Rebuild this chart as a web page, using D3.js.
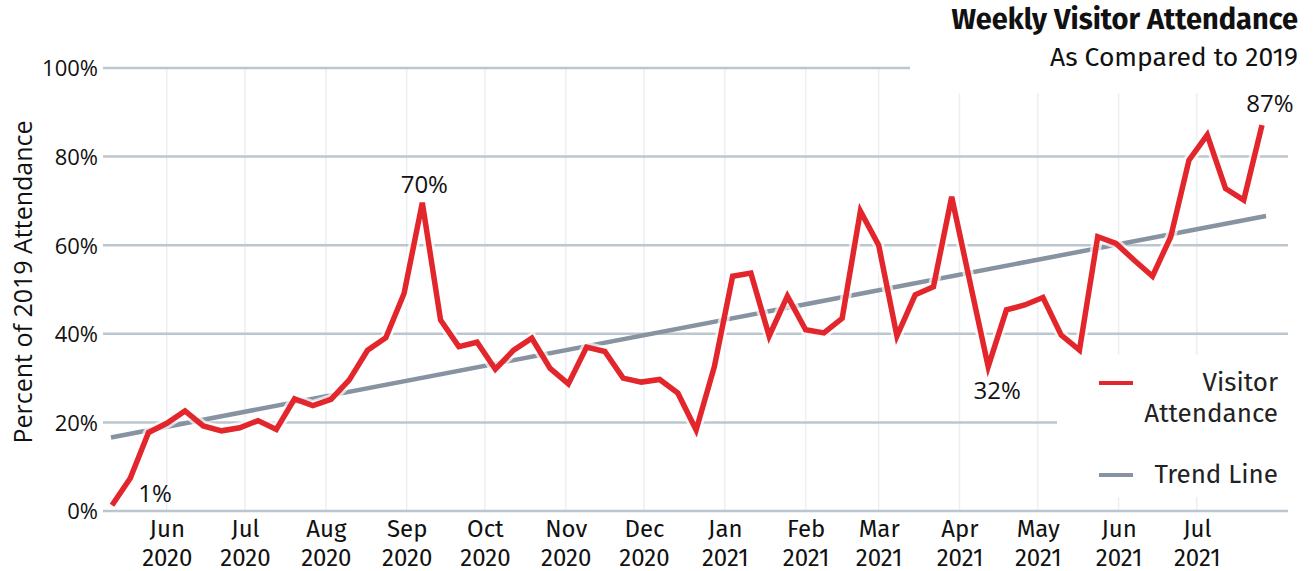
<!DOCTYPE html>
<html>
<head>
<meta charset="utf-8">
<script src="https://cdn.jsdelivr.net/npm/d3@7"></script>
<style>
  body { margin: 0; background: #fff; }
  svg { display: block; }
  .tick text { fill: #111; }
</style>
</head>
<body>
<div id="chart"></div>
<script>
// weekly dates (week starting)
var weeks = [
  "2020-05-11","2020-05-18","2020-05-25","2020-06-01","2020-06-08","2020-06-15","2020-06-22","2020-06-29",
  "2020-07-06","2020-07-13","2020-07-20","2020-07-27","2020-08-03","2020-08-10","2020-08-17","2020-08-24",
  "2020-08-31","2020-09-07","2020-09-14","2020-09-21","2020-09-28","2020-10-05","2020-10-12","2020-10-19",
  "2020-10-26","2020-11-02","2020-11-09","2020-11-16","2020-11-23","2020-11-30","2020-12-07","2020-12-14",
  "2020-12-21","2020-12-28","2021-01-04","2021-01-11","2021-01-18","2021-01-25","2021-02-01","2021-02-08",
  "2021-02-15","2021-02-22","2021-03-01","2021-03-08","2021-03-15","2021-03-22","2021-03-29","2021-04-05",
  "2021-04-12","2021-04-19","2021-04-26","2021-05-03","2021-05-10","2021-05-17","2021-05-24","2021-05-31",
  "2021-06-07","2021-06-14","2021-06-21","2021-06-28","2021-07-05","2021-07-12","2021-07-19","2021-07-26"
];

// percent of 2019 attendance
var attendance = [
  1.3, 7.4, 17.7, 19.8, 22.6, 19.2, 18.1, 18.8,
  20.4, 18.4, 25.3, 23.8, 25.2, 29.6, 36.3, 39.1,
  49.1, 69.6, 43.1, 37.1, 38.1, 32.0, 36.3, 39.0,
  32.2, 28.7, 37.0, 36.0, 30.0, 29.1, 29.7, 26.6,
  18.3, 32.6, 53.0, 53.7, 39.5, 48.5, 40.9, 40.2,
  43.5, 67.7, 60.0, 39.5, 48.8, 50.6, 70.9, 51.7,
  32.6, 45.4, 46.5, 48.2, 39.7, 36.3, 61.9, 60.4,
  56.6, 53.0, 61.9, 79.2, 84.9, 72.8, 70.2, 87.1
];

// trend line end values
var trendValues = [16.6, 66.6];

var yTicks = [0, 20, 40, 60, 80, 100];

// annotated weeks: index, label
var callouts = [
  { i: 0, text: "1%" },
  { i: 17, text: "70%" },
  { i: 48, text: "32%" },
  { i: 63, text: "87%" }
];

var width = 1314, height = 571;
var parse = d3.timeParse("%Y-%m-%d");
var data = weeks.map(function(w, i) {
  return { date: parse(w), value: attendance[i] };
});

var svg = d3.select("#chart").append("svg")
  .attr("width", width)
  .attr("height", height);

var x = d3.scaleTime()
  .domain(d3.extent(data, function(d) { return d.date; }))
  .range([112, 1262]);
var y = d3.scaleLinear()
  .domain([0, 100])
  .range([511, 68]);

var sans = "'Open Sans', 'Noto Sans', sans-serif";
var fira = "'Fira Sans', Lato, 'Open Sans', sans-serif";

// vertical month grid
var months = d3.timeMonth.range(parse("2020-06-01"), parse("2021-07-02"));
svg.append("g")
  .selectAll("line")
  .data(months)
  .enter()
  .append("line")
  .attr("x1", function(d) { return x(d); })
  .attr("x2", function(d) { return x(d); })
  .attr("y1", y(100))
  .attr("y2", y(0))
  .attr("stroke", "#ebeff3")
  .attr("stroke-width", 1.5);

// horizontal grid
svg.append("g")
  .selectAll("line")
  .data(yTicks)
  .enter()
  .append("line")
  .attr("x1", 103)
  .attr("x2", 1288)
  .attr("y1", function(d) { return y(d); })
  .attr("y2", function(d) { return y(d); })
  .attr("stroke", "#bcc6ce")
  .attr("stroke-width", 2.5);

// white boxes behind title and legend
svg.append("rect").attr("x", 910).attr("y", 0).attr("width", 404).attr("height", 93).attr("fill", "#fff");
svg.append("rect").attr("x", 1057).attr("y", 355).attr("width", 257).attr("height", 142).attr("fill", "#fff");

// y axis
var yAxis = svg.append("g")
  .attr("transform", "translate(98,0)")
  .call(d3.axisLeft(y).tickValues(yTicks).tickSize(0).tickPadding(0)
    .tickFormat(function(d) { return d + "%"; }));
yAxis.select(".domain").remove();
yAxis.selectAll("text")
  .style("font-family", sans)
  .style("font-size", "22px")
  .attr("dy", "0.36em");

svg.append("text")
  .attr("transform", "translate(32,282) rotate(-90)")
  .attr("text-anchor", "middle")
  .style("font-family", sans)
  .style("font-size", "25px")
  .attr("fill", "#111")
  .text("Percent of 2019 Attendance");

// x axis: month on one line, year below
var xAxis = svg.append("g")
  .attr("transform", "translate(0,511)")
  .call(d3.axisBottom(x).tickValues(months).tickSize(0).tickPadding(0)
    .tickFormat(d3.timeFormat("%b")));
xAxis.select(".domain").remove();
xAxis.selectAll("text")
  .attr("y", 26).attr("dy", null)
  .style("font-family", fira)
  .style("font-size", "24px");
xAxis.selectAll(".tick").append("text")
  .attr("y", 55)
  .attr("fill", "#111")
  .attr("text-anchor", "middle")
  .style("font-family", fira)
  .style("font-size", "24px")
  .text(d3.timeFormat("%Y"));

// trend line
var first = data[0].date, last = data[data.length - 1].date;
svg.append("line")
  .attr("x1", x(first) - 1)
  .attr("x2", x(last) + 4)
  .attr("y1", y(trendValues[0]))
  .attr("y2", y(trendValues[1]))
  .attr("stroke", "#8793a0")
  .attr("stroke-width", 4.5);

// attendance line
var line = d3.line()
  .x(function(d) { return x(d.date); })
  .y(function(d) { return y(d.value); });

svg.append("path")
  .datum(data)
  .attr("fill", "none")
  .attr("stroke", "#fff")
  .attr("stroke-opacity", 0.7)
  .attr("stroke-width", 11)
  .attr("stroke-linejoin", "miter")
  .attr("d", line);

svg.append("path")
  .datum(data)
  .attr("fill", "none")
  .attr("stroke", "#e2262c")
  .attr("stroke-width", 5.5)
  .attr("stroke-linejoin", "miter")
  .attr("d", line);

// callouts
var offsets = { 0: [43, -3], 17: [2, -10], 48: [9, 32], 63: [8, -13] };
svg.append("g")
  .selectAll("text")
  .data(callouts)
  .enter()
  .append("text")
  .attr("x", function(c) { return x(data[c.i].date) + offsets[c.i][0]; })
  .attr("y", function(c) { return y(data[c.i].value) + offsets[c.i][1]; })
  .attr("text-anchor", "middle")
  .style("font-family", sans)
  .style("font-size", "24px")
  .attr("fill", "#111")
  .text(function(c) { return c.text; });

// title
svg.append("text")
  .attr("x", 1298).attr("y", 29)
  .attr("text-anchor", "end")
  .style("font-family", fira)
  .style("font-weight", "bold")
  .style("font-size", "29px")
  .attr("fill", "#111")
  .text("Weekly Visitor Attendance");
svg.append("text")
  .attr("x", 1298).attr("y", 66)
  .attr("text-anchor", "end")
  .style("font-family", fira)
  .style("font-size", "26.5px")
  .attr("fill", "#111")
  .text("As Compared to 2019");

// legend
var legend = svg.append("g");
legend.append("line").attr("x1", 1099).attr("x2", 1133).attr("y1", 383).attr("y2", 383)
  .attr("stroke", "#e2262c").attr("stroke-width", 4);
legend.append("line").attr("x1", 1099).attr("x2", 1133).attr("y1", 475).attr("y2", 475)
  .attr("stroke", "#8793a0").attr("stroke-width", 4);
var legText = [["Visitor", 391], ["Attendance", 422], ["Trend Line", 483]];
legend.selectAll("text")
  .data(legText)
  .enter()
  .append("text")
  .attr("x", 1278)
  .attr("y", function(d) { return d[1]; })
  .attr("text-anchor", "end")
  .style("font-family", fira)
  .style("font-size", "26px")
  .attr("fill", "#222")
  .text(function(d) { return d[0]; });
</script>
</body>
</html>
